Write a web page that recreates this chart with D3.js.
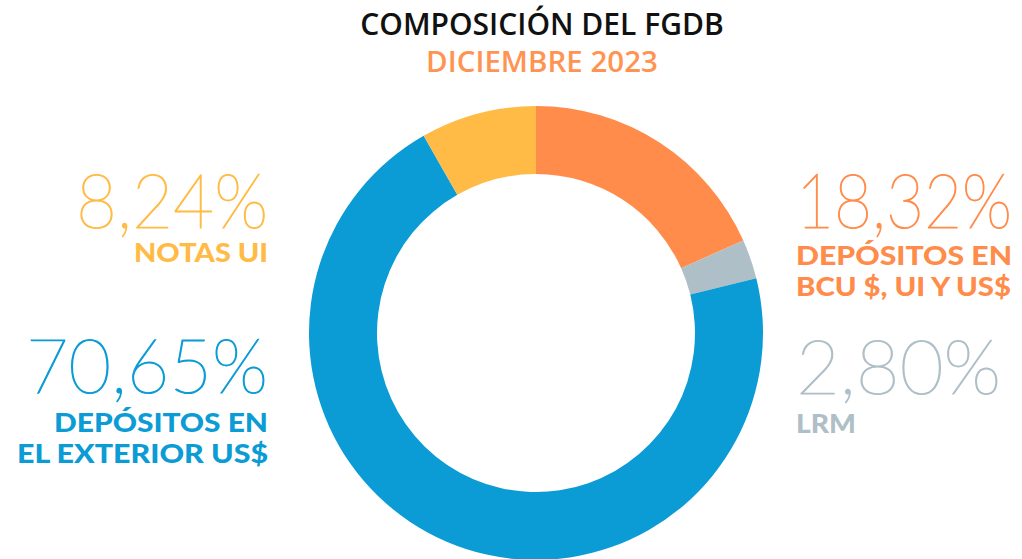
<!DOCTYPE html>
<html>
<head>
<meta charset="utf-8">
<script src="https://cdn.jsdelivr.net/npm/d3@7"></script>
<style>
  body { margin: 0; background: #fff; }
  svg { display: block; }
</style>
</head>
<body>
<div id="chart"></div>
<script>
// datos de la composicion
var categories = ["DEPÓSITOS EN BCU $, UI Y US$", "LRM", "DEPÓSITOS EN EL EXTERIOR US$", "NOTAS UI"];
var labelLines = [["DEPÓSITOS EN", "BCU $, UI Y US$"], ["LRM"], ["DEPÓSITOS EN", "EL EXTERIOR US$"], ["NOTAS UI"]];
var values = [18.32, 2.80, 70.65, 8.24];
var colors = ["#ff8c4a", "#afbfc7", "#0b9bd5", "#ffbb46"];

var title = "COMPOSICIÓN DEL FGDB";
var subtitle = "DICIEMBRE 2023";

var width = 1022, height = 559;
var cx = 536, cy = 333;
var outerR = 227, innerR = 159;

// posicion de cada etiqueta: x de anclaje, base del numero, base de la primera linea
var labelPos = [
  {x: 796, anchor: "start", numY: 228, lineY: 265, numW: 216, lineW: [216, 215]},
  {x: 796, anchor: "start", numY: 394, lineY: 433, numW: 205, lineW: [60]},
  {x: 268, anchor: "end", numY: 393, lineY: 432, numW: 242, lineW: [214, 251]},
  {x: 268, anchor: "end", numY: 228, lineY: 262, numW: 192, lineW: [134]}
];
var lineGap = 31;

var locale = d3.formatLocale({decimal: ",", thousands: ".", grouping: [3], currency: ["", ""]});
var fmt = locale.format(".2f");

var svg = d3.select("#chart").append("svg")
  .attr("width", width)
  .attr("height", height);

svg.append("text")
  .attr("x", 542)
  .attr("y", 35)
  .attr("text-anchor", "middle")
  .style("font-family", "'Open Sans'")
  .style("font-weight", 600)
  .style("font-size", "30px")
  .attr("fill", "#111")
  .text(title);

svg.append("text")
  .attr("x", 542)
  .attr("y", 72)
  .attr("text-anchor", "middle")
  .style("font-family", "'Open Sans'")
  .style("font-weight", 600)
  .style("font-size", "29.5px")
  .attr("fill", "#ff9452")
  .text(subtitle);

var pie = d3.pie().sort(null).value(function(d) { return d; });
var arc = d3.arc().innerRadius(innerR).outerRadius(outerR);

var g = svg.append("g")
  .attr("transform", "translate(" + cx + "," + cy + ")");

g.selectAll("path")
  .data(pie(values))
  .enter()
  .append("path")
  .attr("d", arc)
  .attr("fill", function(d, i) { return colors[i]; });

// etiquetas
var lab = svg.selectAll(".lab")
  .data(values)
  .enter()
  .append("g")
  .attr("class", "lab");

// fuente muy fina + trazo para engrosar un poco
lab.append("text")
  .attr("x", function(d, i) { return labelPos[i].x; })
  .attr("y", function(d, i) { return labelPos[i].numY; })
  .attr("text-anchor", function(d, i) { return labelPos[i].anchor; })
  .attr("textLength", function(d, i) { return labelPos[i].numW; })
  .attr("lengthAdjust", "spacingAndGlyphs")
  .style("font-family", "Lato")
  .style("font-weight", 100)
  .style("font-size", "77px")
  .attr("fill", function(d, i) { return colors[i]; })
  .attr("stroke", function(d, i) { return colors[i]; })
  .attr("stroke-width", 1.2)
  .text(function(d) { return fmt(d) + "%"; });

lab.each(function(d, i) {
  var p = labelPos[i];
  d3.select(this).selectAll(".line")
    .data(labelLines[i])
    .enter()
    .append("text")
    .attr("class", "line")
    .attr("x", p.x)
    .attr("y", function(t, j) { return p.lineY + j * lineGap; })
    .attr("text-anchor", p.anchor)
    .attr("textLength", function(t, j) { return p.lineW[j]; })
    .attr("lengthAdjust", "spacingAndGlyphs")
    .style("font-family", "Lato")
    .style("font-weight", 900)
    .style("font-size", "26px")
    .attr("fill", colors[i])
    .text(function(t) { return t; });
});
</script>
</body>
</html>
